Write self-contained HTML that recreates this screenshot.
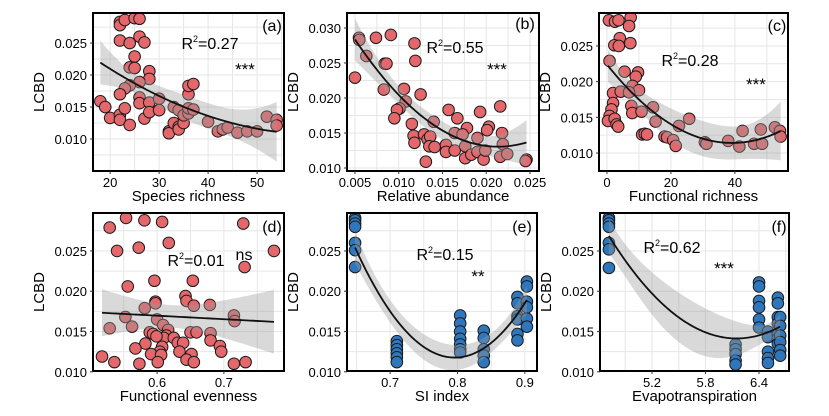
<!DOCTYPE html>
<html><head><meta charset="utf-8">
<style>
html,body{margin:0;padding:0;background:#fff;overflow:hidden;width:829px;height:416px;}
svg{display:block;font-family:"Liberation Sans",Arial,sans-serif;}
</style></head>
<body>
<svg id="chart" width="829" height="416" viewBox="0 0 829 416" xmlns="http://www.w3.org/2000/svg"></svg>
<script>
// ---------- data ----------
const aX=[22,22,23,25,26,22,24,26,27,25,24,25,28,28,26,24,23,22,26,26,28,30,18,19,20,22,22,23,24,27,28,30,32,32,33,33,34,34,34,35,35,36,36,36,36,37,37,40,42,43,44,46,48,50,52,54,54];
const aY=[0.0283,0.0278,0.0286,0.0289,0.0288,0.0254,0.0250,0.0260,0.0251,0.0229,0.0212,0.0211,0.0206,0.0194,0.0189,0.0184,0.0179,0.0170,0.0165,0.0156,0.0157,0.0163,0.0159,0.0150,0.0133,0.0138,0.0130,0.0148,0.0122,0.0132,0.0142,0.0145,0.0112,0.0109,0.0125,0.0150,0.0145,0.0119,0.0115,0.0125,0.0137,0.0140,0.0148,0.0170,0.0183,0.0186,0.0146,0.0127,0.0112,0.0115,0.0118,0.0110,0.0112,0.0112,0.0135,0.0130,0.0121];
const bX=[0.00546,0.0055,0.0074,0.0091,0.0118,0.0063,0.0084,0.0086,0.0119,0.0050,0.0083,0.0106,0.0125,0.0108,0.0101,0.0098,0.0095,0.0115,0.0117,0.0118,0.0140,0.0129,0.0133,0.0136,0.0135,0.0141,0.0131,0.0157,0.0167,0.0178,0.0154,0.0154,0.0164,0.0164,0.0173,0.0176,0.0176,0.0183,0.0190,0.0190,0.0193,0.0203,0.0201,0.0197,0.0199,0.0216,0.0218,0.0219,0.0216,0.0224,0.0246,0.0245];
const bY=[0.0286,0.0283,0.0286,0.0290,0.0278,0.0260,0.0249,0.0249,0.0253,0.0229,0.0212,0.0213,0.0205,0.0195,0.0185,0.0183,0.0171,0.0163,0.0146,0.0136,0.0166,0.0148,0.0141,0.0145,0.0131,0.0130,0.0109,0.0183,0.0171,0.0157,0.0133,0.0123,0.0125,0.0150,0.0148,0.0131,0.0114,0.0119,0.0123,0.0143,0.0180,0.0159,0.0154,0.0112,0.0125,0.0188,0.0150,0.0134,0.0116,0.0120,0.0112,0.0110];
const cX=[0.6,2.5,3.6,7.4,6.9,4,2.3,3.7,7.3,0.8,5.5,9.7,9,8,10,1.9,4.3,6.9,1.9,1.4,0.8,0.3,2.4,3,3.5,7.6,7.9,10.8,14.4,15.2,11,11.8,12.5,18,18.8,20.7,21.5,22.5,25.7,30.6,31.1,37.9,41.4,42.4,46,48.1,48.5,52.5,54.1,54.3];
const cY=[0.0286,0.0284,0.0286,0.0290,0.0278,0.0261,0.0251,0.0250,0.0254,0.0229,0.0214,0.0213,0.0207,0.0194,0.0188,0.0184,0.0186,0.0185,0.0170,0.0161,0.0152,0.0145,0.0148,0.0140,0.0137,0.0166,0.0156,0.0158,0.0164,0.0144,0.0126,0.0127,0.0126,0.0123,0.0122,0.0118,0.0110,0.0138,0.0148,0.0115,0.0113,0.0117,0.0109,0.0131,0.0113,0.0133,0.0113,0.0136,0.0131,0.0123];
const dX=[0.5175,0.536,0.529,0.5535,0.581,0.6075,0.540,0.5725,0.6175,0.729,0.775,0.731,0.556,0.596,0.6535,0.6425,0.644,0.5975,0.5975,0.655,0.679,0.5815,0.5525,0.600,0.609,0.715,0.716,0.529,0.5625,0.589,0.594,0.6165,0.614,0.610,0.625,0.599,0.650,0.659,0.680,0.680,0.5825,0.5675,0.631,0.639,0.6075,0.604,0.6335,0.591,0.606,0.6515,0.694,0.696,0.644,0.655,0.601,0.5735,0.715,0.7325];
const dY=[0.0119,0.0112,0.0279,0.0291,0.0288,0.0286,0.0250,0.0254,0.0260,0.0284,0.0250,0.0230,0.0206,0.0213,0.0213,0.0194,0.0188,0.0187,0.0185,0.0182,0.0183,0.0179,0.0168,0.0165,0.0158,0.0170,0.0163,0.0154,0.0156,0.0149,0.0147,0.0152,0.0145,0.0142,0.0142,0.0144,0.0149,0.0149,0.0148,0.0139,0.0135,0.0129,0.0136,0.0136,0.0131,0.0125,0.0125,0.0122,0.0121,0.0122,0.0132,0.0125,0.0115,0.0112,0.0112,0.0110,0.0110,0.0112];
const eX=[0.648,0.648,0.648,0.648,0.648,0.648,0.648,0.71,0.71,0.71,0.71,0.71,0.71,0.804,0.804,0.804,0.804,0.804,0.804,0.804,0.839,0.839,0.839,0.839,0.839,0.889,0.889,0.889,0.889,0.889,0.889,0.903,0.903,0.903,0.903,0.903,0.903];
const eY=[0.0291,0.0288,0.0284,0.0280,0.0260,0.0251,0.0230,0.0138,0.0133,0.0128,0.0123,0.0118,0.0112,0.0170,0.0160,0.0150,0.0141,0.0134,0.0128,0.0124,0.0151,0.0142,0.0128,0.0120,0.0112,0.0193,0.0185,0.0169,0.0165,0.0147,0.0139,0.0212,0.0206,0.0187,0.0180,0.0166,0.0156];
const fX=[4.717,4.717,4.717,4.717,4.717,4.717,4.717,6.137,6.137,6.137,6.137,6.137,6.4,6.4,6.4,6.4,6.4,6.4,6.5,6.5,6.5,6.5,6.5,6.611,6.611,6.611,6.611,6.611,6.611,6.611,6.637,6.637,6.637,6.637,6.637,6.637];
const fY=[0.0291,0.0288,0.0284,0.0280,0.0260,0.0252,0.0229,0.0134,0.0128,0.0122,0.0114,0.0109,0.0211,0.0206,0.0188,0.0180,0.0165,0.0155,0.0150,0.0143,0.0125,0.0117,0.0111,0.0192,0.0185,0.0168,0.0160,0.0147,0.0141,0.0135,0.0168,0.0157,0.0145,0.0137,0.0127,0.0120];
const aXTicks=[20,30,40,50];
const bXTicks=[0.005,0.010,0.015,0.020,0.025];
const cXTicks=[0,20,40];
const dXTicks=[0.6,0.7];
const eXTicks=[0.7,0.8,0.9];
const fXTicks=[5.2,5.8,6.4];
const yTicks4=[0.010,0.015,0.020,0.025];
const yTicks5=[0.010,0.015,0.020,0.025,0.030];
const xTitles=["Species richness","Relative abundance","Functional richness","Functional evenness","SI index","Evapotranspiration"];
const r2Labels=["0.27","0.55","0.28","0.01","0.15","0.62"];
const sigLabels=["***","***","***","ns","**","***"];
const panelTags=["(a)","(b)","(c)","(d)","(e)","(f)"];
// ---------- layout ----------
const panels=[
 {xs:aX,ys:aY,xt:aXTicks,yt:yTicks4,fmt:v=>String(v),x0:93,x1:284,y0:13,y1:171,dx:[16.5,55.5],dy:[0.005,0.0297],deg:2,col:"red",r2:[210,43],sig:[245,67],lab:[272,25]},
 {xs:bX,ys:bY,xt:bXTicks,yt:yTicks5,fmt:v=>v.toFixed(3),x0:347,x1:539,y0:13,y1:171,dx:[0.00409,0.02603],dy:[0.00957,0.03214],deg:2,col:"red",r2:[455,47],sig:[497,67],lab:[525,23]},
 {xs:cX,ys:cY,xt:cXTicks,yt:yTicks4,fmt:v=>String(v),x0:599,x1:788,y0:13,y1:171,dx:[-2.5,56.6],dy:[0.00748,0.02962],deg:2,col:"red",r2:[690,60],sig:[756,82],lab:[777,25]},
 {xs:dX,ys:dY,xt:dXTicks,yt:yTicks4,fmt:v=>v.toFixed(1),x0:93,x1:284,y0:213,y1:371,dx:[0.504,0.790],dy:[0.0101,0.02971],deg:1,col:"red",r2:[196,260],sig:[244,255],lab:[272,226]},
 {xs:eX,ys:eY,xt:eXTicks,yt:yTicks4,fmt:v=>v.toFixed(1),x0:347,x1:537,y0:213,y1:371,dx:[0.636,0.918],dy:[0.0101,0.02971],deg:2,col:"blue",r2:[445,254],sig:[478,274],lab:[522,226]},
 {xs:fX,ys:fY,xt:fXTicks,yt:yTicks4,fmt:v=>v.toFixed(1),x0:600,x1:789,y0:213,y1:371,dx:[4.617,6.736],dy:[0.0101,0.02971],deg:2,col:"blue",r2:[672,247],sig:[724,266],lab:[779,226]}
];
const NS="http://www.w3.org/2000/svg";
const svg=document.getElementById('chart');
function mk(tag,attrs,parent){const e=document.createElementNS(NS,tag);for(const k in attrs)e.setAttribute(k,attrs[k]);(parent||svg).appendChild(e);return e;}

function fitPoly(xs,ys,deg){
 const n=xs.length,k=deg+1;
 const m=xs.reduce((a,b)=>a+b,0)/n;
 const sd=Math.sqrt(xs.reduce((a,b)=>a+(b-m)*(b-m),0)/n)||1;
 const row=x=>{const t=(x-m)/sd;const r=[];for(let j=0;j<k;j++)r.push(Math.pow(t,j));return r;};
 const A=[],bv=[];for(let i=0;i<k;i++){A.push(new Array(k).fill(0));bv.push(0);}
 for(let i=0;i<n;i++){const r=row(xs[i]);for(let p=0;p<k;p++){bv[p]+=r[p]*ys[i];for(let q=0;q<k;q++)A[p][q]+=r[p]*r[q];}}
 const M=A.map((r,i)=>r.concat(Array.from({length:k},(_,j)=>i===j?1:0)));
 for(let c=0;c<k;c++){let piv=c;for(let r=c+1;r<k;r++)if(Math.abs(M[r][c])>Math.abs(M[piv][c]))piv=r;[M[c],M[piv]]=[M[piv],M[c]];const d=M[c][c];for(let j=0;j<2*k;j++)M[c][j]/=d;for(let r=0;r<k;r++)if(r!==c){const f=M[r][c];for(let j=0;j<2*k;j++)M[r][j]-=f*M[c][j];}}
 const inv=M.map(r=>r.slice(k));
 const beta=inv.map(r=>r.reduce((s,v,j)=>s+v*bv[j],0));
 let rss=0;for(let i=0;i<n;i++){const r=row(xs[i]);const yh=r.reduce((s,v,j)=>s+v*beta[j],0);rss+=(ys[i]-yh)**2;}
 const s=Math.sqrt(rss/(n-k));
 return x=>{const r=row(x);const yh=r.reduce((s2,v,j)=>s2+v*beta[j],0);let h=0;for(let p=0;p<k;p++)for(let q=0;q<k;q++)h+=r[p]*inv[p][q]*r[q];return [yh,2.0*s*Math.sqrt(h)];};
}

panels.forEach((P,pi)=>{
 const g=mk('g',{});
 
 
 const sx=v=>P.x0+(v-P.dx[0])/(P.dx[1]-P.dx[0])*(P.x1-P.x0);
 const sy=v=>P.y1-(v-P.dy[0])/(P.dy[1]-P.dy[0])*(P.y1-P.y0);
 const cid='clip'+pi;
 const cp=mk('clipPath',{id:cid},g);mk('rect',{x:P.x0,y:P.y0,width:P.x1-P.x0,height:P.y1-P.y0},cp);
 const plot=mk('g',{'clip-path':'url(#'+cid+')'},g);
 const xs=P.xt[1]-P.xt[0], ys=P.yt[1]-P.yt[0];
 for(let v=P.xt[0]-xs*2;v<=P.dx[1]+xs;v+=xs/2){const gl=mk('line',{x1:sx(v),x2:sx(v),y1:P.y0,y2:P.y1,stroke:'#e6e6e6','stroke-width':1},plot);}
 for(let v=P.yt[0]-ys*2;v<=P.dy[1]+ys;v+=ys/2){const gl=mk('line',{x1:P.x0,x2:P.x1,y1:sy(v),y2:sy(v),stroke:'#e6e6e6','stroke-width':1},plot);}
 const fill=P.col==='red'?'#e4676b':'#2f77bd';
 P.xs.forEach((x,i)=>{const c=mk('circle',{cx:sx(x),cy:sy(P.ys[i]),r:5.8,fill:fill,stroke:'#1a1a1a','stroke-width':1},plot);
  
  });
 const f=fitPoly(P.xs,P.ys,P.deg);
 const mn=Math.min(...P.xs),mx=Math.max(...P.xs);
 const N=80,up=[],lo=[],mid=[];
 for(let i=0;i<=N;i++){const x=mn+(mx-mn)*i/N;const [yh,se]=f(x);mid.push(sx(x)+','+sy(yh));up.push(sx(x)+','+sy(yh+se));lo.unshift(sx(x)+','+sy(yh-se));}
 const band=mk('polygon',{points:up.concat(lo).join(' '),fill:'#9a9a9a','fill-opacity':0.38},plot);
 
 
 const line=mk('polyline',{points:mid.join(' '),fill:'none',stroke:'#111','stroke-width':1.8},plot);
 
 
 const fr=mk('rect',{x:P.x0,y:P.y0,width:P.x1-P.x0,height:P.y1-P.y0,fill:'none',stroke:'#000','stroke-width':2},g);
 
 
 P.xt.forEach(v=>{mk('line',{x1:sx(v),x2:sx(v),y1:P.y1,y2:P.y1+3,stroke:'#333'},g);
  const t=mk('text',{x:sx(v),y:P.y1+16,'text-anchor':'middle','font-size':13,fill:'#000'},g);t.textContent=P.fmt(v);
  
  });
 P.yt.forEach(v=>{if(sy(v)<P.y0-1)return;mk('line',{x1:P.x0-3,x2:P.x0,y1:sy(v),y2:sy(v),stroke:'#333'},g);
  const t=mk('text',{x:P.x0-6,y:sy(v)+5,'text-anchor':'end','font-size':13,fill:'#000'},g);t.textContent=v.toFixed(3);
  
  });
 const xt=mk('text',{x:(P.x0+P.x1)/2,y:P.y1+30,'text-anchor':'middle','font-size':15,fill:'#000'},g);xt.textContent=xTitles[pi];
 
 
 const yx=P.x0-49,yy=(P.y0+P.y1)/2;
 const yt=mk('text',{x:yx,y:yy,'text-anchor':'middle','font-size':15,fill:'#000',transform:'rotate(-90 '+yx+' '+yy+')'},g);yt.textContent='LCBD';
 
 
 const r=mk('text',{x:P.r2[0],y:P.r2[1]+6,'text-anchor':'middle','font-size':16,fill:'#000'},g);
 r.innerHTML='R<tspan font-size="9" dy="-7">2</tspan><tspan dy="7">='+r2Labels[pi]+'</tspan>';
 
 
 const s=mk('text',{x:P.sig[0],y:P.sig[1]+(sigLabels[pi]==='ns'?5:8),'text-anchor':'middle','font-size':sigLabels[pi]==='ns'?16:17,fill:'#000'},g);s.textContent=sigLabels[pi];
 
 
 const l=mk('text',{x:P.lab[0],y:P.lab[1]+6,'text-anchor':'middle','font-size':16,fill:'#000'},g);l.textContent=panelTags[pi];
 
 
});
</script>
</body></html>
